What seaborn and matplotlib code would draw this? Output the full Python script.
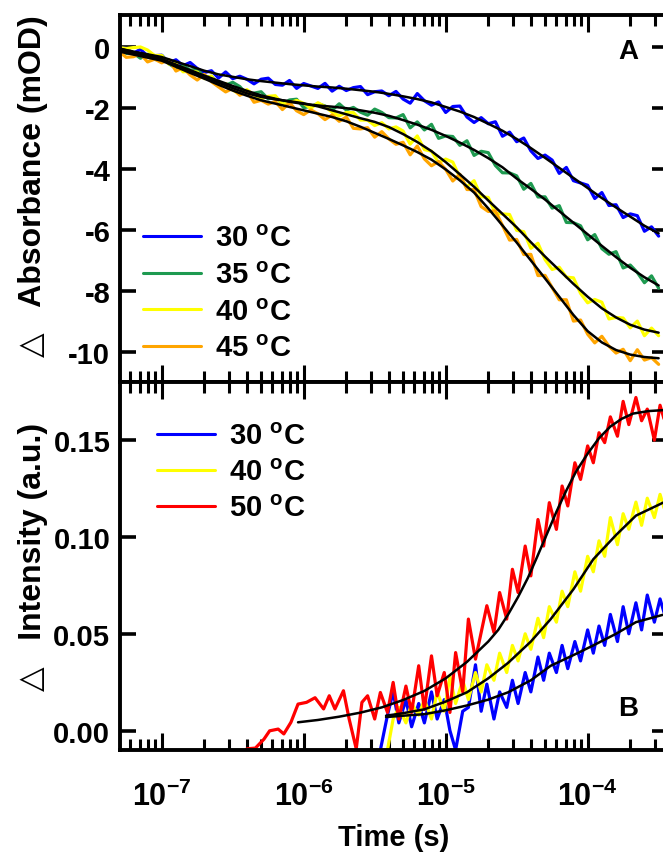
import numpy as np
import matplotlib
matplotlib.use("Agg")
import matplotlib.pyplot as plt
import seaborn as sns
from matplotlib.ticker import LogLocator, NullFormatter, FixedLocator

# ---------------- data ----------------
# Panel A: transient absorbance; times given as log10(time / s)
LOGT_A_TRACE = [-7.30, -7.25, -7.20, -7.15, -7.10, -7.05, -7.00, -6.95, -6.90, -6.85, -6.80, -6.75, -6.70,
                -6.65, -6.60, -6.55, -6.50, -6.45, -6.40, -6.35, -6.30, -6.25, -6.20, -6.15, -6.10, -6.05,
                -6.00, -5.95, -5.90, -5.85, -5.80, -5.75, -5.70, -5.65, -5.60, -5.55, -5.50, -5.45, -5.40,
                -5.35, -5.30, -5.25, -5.20, -5.15, -5.10, -5.05, -5.00, -4.95, -4.90, -4.85, -4.80, -4.75,
                -4.70, -4.65, -4.60, -4.55, -4.50, -4.45, -4.40, -4.35, -4.30, -4.25, -4.20, -4.15, -4.10,
                -4.05, -4.00, -3.95, -3.90, -3.85, -3.80, -3.75, -3.70, -3.65, -3.60, -3.55, -3.50]

A30_TRACE = [-0.05, -0.04, -0.21, -0.075, -0.30, -0.285, -0.27, -0.525, -0.42, -0.615,
             -0.51, -0.705, -0.84, -0.78, -1.02, -0.82, -1.04, -0.96, -1.06, -1.21,
             -1.06, -1.025, -1.23, -1.255, -1.10, -1.36, -1.20, -1.28, -1.36, -1.195,
             -1.45, -1.29, -1.43, -1.335, -1.30, -1.565, -1.47, -1.445, -1.60, -1.46,
             -1.71, -1.845, -1.53, -1.765, -1.91, -1.805, -2.15, -1.955, -1.94, -2.30,
             -2.48, -2.32, -2.52, -2.455, -2.93, -2.795, -3.11, -2.99, -3.41, -3.66,
             -3.55, -3.715, -4.15, -3.955, -4.39, -4.465, -4.54, -4.975, -4.78, -5.205,
             -5.18, -5.60, -5.48, -5.54, -6.05, -5.905, -6.21]
A35_TRACE = [-0.04, -0.21, -0.20, -0.37, -0.24, -0.41, -0.28, -0.55, -0.70, -0.61,
             -0.76, -0.73, -1.00, -0.965, -1.23, -1.255, -1.16, -1.30, -1.56, -1.515,
             -1.47, -1.705, -1.64, -1.87, -1.74, -1.715, -1.99, -1.955, -1.86, -1.94,
             -2.08, -1.865, -2.07, -1.985, -2.14, -2.24, -2.04, -2.15, -2.32, -2.33,
             -2.22, -2.655, -2.46, -2.725, -2.54, -3.00, -2.92, -2.94, -3.23, -3.08,
             -3.56, -3.425, -3.47, -3.89, -4.13, -4.135, -4.23, -4.67, -4.48, -4.925,
             -4.92, -5.29, -5.21, -5.76, -5.77, -5.87, -6.33, -6.16, -6.62, -6.805,
             -6.72, -7.255, -7.16, -7.405, -7.74, -7.515, -7.92]
A40_TRACE = [-0.02, -0.05, -0.02, 0.00, -0.10, -0.28, -0.28, -0.56, -0.54, -0.815,
             -0.79, -0.825, -1.04, -0.955, -1.29, -1.20, -1.41, -1.555, -1.40, -1.58,
             -1.70, -1.62, -1.60, -1.87, -1.84, -1.755, -1.85, -2.02, -1.83, -1.955,
             -2.14, -2.265, -2.15, -2.155, -2.40, -2.40, -2.58, -2.485, -2.69, -2.625,
             -2.76, -3.19, -2.92, -3.37, -3.42, -3.80, -3.68, -3.78, -4.28, -4.585,
             -4.39, -4.915, -4.94, -5.46, -5.48, -5.50, -6.02, -6.065, -6.61, -6.445,
             -6.98, -7.305, -7.23, -7.555, -7.58, -8.09, -8.40, -8.29, -8.38, -8.93,
             -8.88, -8.90, -9.22, -9.00, -9.48, -9.23, -9.48]
A45_TRACE = [-0.15, -0.34, -0.32, -0.23, -0.49, -0.40, -0.52, -0.41, -0.79, -0.68,
             -0.92, -1.085, -0.90, -1.14, -1.31, -1.475, -1.36, -1.585, -1.46, -1.815,
             -1.75, -1.875, -1.79, -2.055, -1.83, -2.095, -2.22, -2.065, -2.19, -2.385,
             -2.23, -2.44, -2.30, -2.67, -2.69, -2.65, -2.96, -2.78, -3.02, -3.195,
             -3.13, -3.54, -3.25, -3.675, -3.90, -3.76, -4.02, -4.40, -4.18, -4.68,
             -4.68, -5.24, -5.40, -5.38, -5.86, -6.34, -6.32, -6.815, -6.81, -7.505,
             -7.50, -7.90, -8.30, -8.30, -9.00, -8.965, -9.43, -9.715, -9.50, -9.825,
             -10.05, -9.925, -10.30, -9.94, -10.28, -10.20, -10.42]

LOGT_A_FIT = [-7.3, -7.2, -7.1, -7.0, -6.9, -6.8, -6.7, -6.6, -6.5, -6.4, -6.3, -6.2, -6.1,
              -6.0, -5.9, -5.8, -5.7, -5.6, -5.5, -5.4, -5.3, -5.2, -5.1, -5.0, -4.9, -4.8,
              -4.7, -4.6, -4.5, -4.4, -4.3, -4.2, -4.1, -4.0, -3.9, -3.8, -3.7, -3.6, -3.5]
A30_FIT = [-0.05, -0.15, -0.24, -0.33, -0.48, -0.63, -0.78, -0.90, -0.98, -1.06, -1.12, -1.17, -1.22,
           -1.26, -1.30, -1.33, -1.37, -1.42, -1.47, -1.54, -1.62, -1.71, -1.82, -1.97, -2.12, -2.30,
           -2.52, -2.75, -3.02, -3.32, -3.64, -3.97, -4.30, -4.63, -4.96, -5.27, -5.57, -5.87, -6.12]
A35_FIT = [-0.10, -0.20, -0.30, -0.40, -0.58, -0.76, -0.94, -1.11, -1.28, -1.44, -1.59, -1.70, -1.80,
           -1.87, -1.92, -1.96, -2.01, -2.08, -2.16, -2.26, -2.40, -2.55, -2.72, -2.92, -3.14, -3.38,
           -3.65, -3.95, -4.32, -4.66, -5.01, -5.39, -5.77, -6.15, -6.53, -6.90, -7.25, -7.56, -7.83]
A40_FIT = [-0.05, -0.17, -0.28, -0.40, -0.60, -0.79, -0.98, -1.17, -1.35, -1.52, -1.64, -1.72, -1.78,
           -1.85, -1.95, -2.08, -2.21, -2.34, -2.46, -2.63, -2.86, -3.12, -3.42, -3.78, -4.18, -4.59,
           -5.04, -5.48, -5.92, -6.41, -6.88, -7.33, -7.78, -8.20, -8.58, -8.88, -9.12, -9.28, -9.38]
A45_FIT = [-0.15, -0.25, -0.35, -0.45, -0.65, -0.85, -1.04, -1.24, -1.43, -1.60, -1.75, -1.86, -1.97,
           -2.08, -2.19, -2.30, -2.44, -2.62, -2.82, -3.02, -3.23, -3.45, -3.70, -4.02, -4.38, -4.78,
           -5.30, -5.86, -6.42, -7.01, -7.60, -8.20, -8.80, -9.33, -9.70, -9.95, -10.10, -10.18, -10.22]

A_LABELS = ["30 $^{\\mathbf{o}}$C", "35 $^{\\mathbf{o}}$C", "40 $^{\\mathbf{o}}$C", "45 $^{\\mathbf{o}}$C"]

# Panel B: transient intensity
LOGT_B = [-6.40, -6.34, -6.28, -6.24, -6.18, -6.14, -6.09, -6.04, -5.98, -5.92, -5.86, -5.82, -5.78,
          -5.72, -5.68, -5.63, -5.59, -5.55, -5.50, -5.46, -5.41, -5.37, -5.33, -5.28, -5.24, -5.19,
          -5.15, -5.10, -5.06, -5.01, -4.97, -4.93, -4.88, -4.84, -4.79, -4.75, -4.71, -4.66, -4.62,
          -4.57, -4.53, -4.49, -4.44, -4.40, -4.35, -4.31, -4.27, -4.22, -4.18, -4.14, -4.09, -4.05,
          -4.00, -3.96, -3.92, -3.88, -3.84, -3.79, -3.75, -3.71, -3.66, -3.62, -3.58, -3.53, -3.49, -3.45]
B50_TRACE = [-0.0094, -0.009, -0.0044, -0.0001, 0.0008, -0.0017, 0.0043, 0.0137, 0.0146, 0.017, 0.0112,
             0.018, 0.0112, 0.0206, 0.006, -0.0094, 0.0146, 0.018, 0.006, 0.0197, 0.0094, 0.0249, 0.006,
             0.023, 0.0094, 0.0335, 0.011, 0.0386, 0.018, 0.030, 0.0094, 0.0403, 0.020, 0.0576, 0.0369,
             0.0507, 0.0645, 0.0507, 0.0713, 0.0576, 0.0833, 0.0713, 0.0953, 0.0799, 0.109, 0.0953,
             0.1177, 0.1039, 0.1263, 0.116, 0.1383, 0.1297, 0.147, 0.1383, 0.1538, 0.1487, 0.162, 0.152,
             0.170, 0.158, 0.172, 0.160, 0.166, 0.150, 0.168, 0.158]
B30_TRACE = [-0.010, 0.008, 0.020, 0.004, 0.016, 0.002, 0.014, 0.004, 0.020, 0.006, 0.016, 0.000,
             -0.010, 0.010, 0.012, 0.034, 0.010, 0.024, 0.006, 0.020, 0.012, 0.026, 0.014, 0.030,
             0.020, 0.038, 0.026, 0.040, 0.030, 0.044, 0.032, 0.046, 0.036, 0.052, 0.040, 0.054,
             0.044, 0.060, 0.046, 0.064, 0.050, 0.066, 0.052, 0.070, 0.056, 0.068, 0.058]
B40_TRACE = [-0.010, 0.006, 0.012, 0.004, 0.014, 0.008, 0.016, 0.006, 0.020, 0.010, 0.028, 0.014,
             0.026, 0.016, 0.030, 0.020, 0.034, 0.026, 0.040, 0.030, 0.044, 0.036, 0.050, 0.042,
             0.058, 0.048, 0.064, 0.056, 0.072, 0.064, 0.082, 0.072, 0.090, 0.082, 0.098, 0.090,
             0.110, 0.096, 0.112, 0.104, 0.118, 0.106, 0.120, 0.110, 0.122, 0.112]

B50_FIT_LOGT = [-6.04, -5.90, -5.75, -5.60, -5.45, -5.30, -5.15, -5.00, -4.85, -4.70, -4.63, -4.56,
                -4.49, -4.42, -4.36, -4.29, -4.22, -4.15, -4.08, -4.00, -3.92, -3.84, -3.76, -3.68,
                -3.57, -3.46]
B50_FIT = [0.0043, 0.0055, 0.0072, 0.0093, 0.012, 0.0158, 0.0205, 0.027, 0.0355, 0.046, 0.052, 0.060,
           0.069, 0.079, 0.089, 0.101, 0.113, 0.124, 0.134, 0.143, 0.151, 0.157, 0.161, 0.1637,
           0.165, 0.1655]
B_FIT_LOGT = [-5.42, -5.30, -5.15, -5.00, -4.85, -4.70, -4.56, -4.40, -4.26, -4.10, -3.96, -3.80, -3.66, -3.46]
B40_FIT = [0.0077, 0.009, 0.011, 0.015, 0.0198, 0.027, 0.035, 0.046, 0.0576, 0.073, 0.0885, 0.101, 0.111, 0.118]
B30_FIT = [0.007, 0.0077, 0.0085, 0.0105, 0.013, 0.016, 0.0198, 0.026, 0.0335, 0.039, 0.044, 0.050, 0.056, 0.060]

B_LABELS = ["30 $^{\\mathbf{o}}$C", "40 $^{\\mathbf{o}}$C", "50 $^{\\mathbf{o}}$C"]

A_YTICKS = [0, -2, -4, -6, -8, -10]
B_YTICKS = [0.00, 0.05, 0.10, 0.15]
X_TICKS = [1e-7, 1e-6, 1e-5, 1e-4]
X_TICKLABELS = [r"$\mathbf{10^{-7}}$", r"$\mathbf{10^{-6}}$", r"$\mathbf{10^{-5}}$", r"$\mathbf{10^{-4}}$"]

# ---------------- style ----------------
sns.set_theme(style="ticks")
plt.rcParams["font.family"] = ["Liberation Sans", "DejaVu Sans"]
plt.rcParams["font.weight"] = "bold"
plt.rcParams["axes.unicode_minus"] = False
for k in ("text.color", "axes.labelcolor", "xtick.color", "ytick.color", "axes.edgecolor"):
    plt.rcParams[k] = "black"
plt.rcParams["mathtext.fontset"] = "custom"
for k in ("rm", "bf", "it", "sf"):
    plt.rcParams["mathtext." + k] = "Liberation Sans:bold"

C_BLUE, C_GREEN, C_YELLOW, C_ORANGE, C_RED = "#0000ff", "#1e9a50", "#ffff00", "#ffa500", "#ff0000"

fig = plt.figure(figsize=(6.63, 8.53), dpi=100)
L, R = 120 / 663, 668 / 663
yA_top, yAB, yB_bot = 1 - 16 / 853, 1 - 383 / 853, 1 - 751 / 853
axA = fig.add_axes([L, yAB, R - L, yA_top - yAB])
axB = fig.add_axes([L, yB_bot, R - L, yAB - yB_bot])

TRACE_LW, FIT_LW = 2.3, 1.8

tA = 10.0 ** np.array(LOGT_A_TRACE)
tA_fit = 10.0 ** np.array(LOGT_A_FIT)
for tr, col, lab in zip([A30_TRACE, A35_TRACE, A40_TRACE, A45_TRACE],
                        [C_BLUE, C_GREEN, C_YELLOW, C_ORANGE], A_LABELS):
    sns.lineplot(x=tA, y=tr, ax=axA, color=col, lw=TRACE_LW, label=lab, estimator=None, sort=False)
for fit in [A30_FIT, A35_FIT, A40_FIT, A45_FIT]:
    sns.lineplot(x=tA_fit, y=fit, ax=axA, color="black", lw=FIT_LW, estimator=None, sort=False)

tB = 10.0 ** np.array(LOGT_B)
n30, n40 = len(B30_TRACE), len(B40_TRACE)
sns.lineplot(x=tB[-n30:], y=B30_TRACE, ax=axB, color=C_BLUE, lw=TRACE_LW, label=B_LABELS[0], estimator=None, sort=False)
sns.lineplot(x=tB[-n40:], y=B40_TRACE, ax=axB, color=C_YELLOW, lw=TRACE_LW, label=B_LABELS[1], estimator=None, sort=False)
sns.lineplot(x=tB, y=B50_TRACE, ax=axB, color=C_RED, lw=TRACE_LW, label=B_LABELS[2], estimator=None, sort=False)
sns.lineplot(x=10.0 ** np.array(B50_FIT_LOGT), y=B50_FIT, ax=axB, color="black", lw=FIT_LW, estimator=None, sort=False)
sns.lineplot(x=10.0 ** np.array(B_FIT_LOGT), y=B40_FIT, ax=axB, color="black", lw=FIT_LW, estimator=None, sort=False)
sns.lineplot(x=10.0 ** np.array(B_FIT_LOGT), y=B30_FIT, ax=axB, color="black", lw=FIT_LW, estimator=None, sort=False)

xlim = (10 ** -7.294, 10 ** -3.434)
for ax in (axA, axB):
    ax.set_xscale("log")
    ax.set_xlim(*xlim)
    for s in ax.spines.values():
        s.set_visible(True)
        s.set_linewidth(2.8)
        s.set_color("black")
    ax.xaxis.set_major_locator(FixedLocator(X_TICKS))
    ax.xaxis.set_minor_locator(LogLocator(base=10, subs=np.arange(2, 10)))
    ax.xaxis.set_minor_formatter(NullFormatter())
    ax.tick_params(axis="x", which="major", direction="in", length=12, width=2.2, top=True, bottom=True)
    ax.tick_params(axis="x", which="minor", direction="in", length=8, width=2.2, top=True, bottom=True)
    ax.tick_params(axis="y", which="major", direction="in", length=11.5, width=2.6, left=True, right=True,
                   labelsize=21, pad=7)
    ax.tick_params(axis="y", which="minor", left=False, right=False)
    ax.set_xlabel("")
    ax.set_ylabel("")

axA.set_ylim(-11, 1.05)
axA.set_yticks(A_YTICKS)
axA.set_yticklabels([str(v) for v in A_YTICKS], fontweight="bold")
axA.tick_params(axis="x", labelbottom=False)

axB.set_ylim(-0.01, 0.18)
axB.set_yticks(B_YTICKS)
axB.set_yticklabels([f"{v:.2f}" for v in B_YTICKS], fontweight="bold")
axB.set_xticklabels(X_TICKLABELS)
axB.tick_params(axis="x", which="major", labelsize=22, pad=22)

legA = axA.legend(loc="upper left", bbox_to_anchor=(0.042, 0.43), frameon=False, fontsize=21,
                  handlelength=2.0, handletextpad=0.48, labelspacing=0.30, borderpad=0, borderaxespad=0)
for h in legA.get_lines():
    h.set_linewidth(2.2)
legB = axB.legend(loc="upper left", bbox_to_anchor=(0.067, 0.89), frameon=False, fontsize=21,
                  handlelength=2.0, handletextpad=0.48, labelspacing=0.27, borderpad=0, borderaxespad=0)
for h in legB.get_lines():
    h.set_linewidth(2.2)

fig.text(628 / 663, 1 - 52 / 853, "A", ha="center", va="center", fontsize=20, fontweight="bold")
fig.text(628 / 663, 1 - 709 / 853, "B", ha="center", va="center", fontsize=20, fontweight="bold")

fig.text(33 / 663, 1 - 186 / 853, "\u25b3   Absorbance (mOD)", rotation=90, ha="center", va="center",
         fontsize=23, fontweight="bold")
fig.text(33 / 663, 1 - 557 / 853, "\u25b3   Intensity (a.u.)", rotation=90, ha="center", va="center",
         fontsize=23, fontweight="bold")
fig.text(394 / 663, 1 - 838 / 853, "Time (s)", ha="center", va="center", fontsize=21, fontweight="bold")

fig.savefig("out.png", dpi=100)
